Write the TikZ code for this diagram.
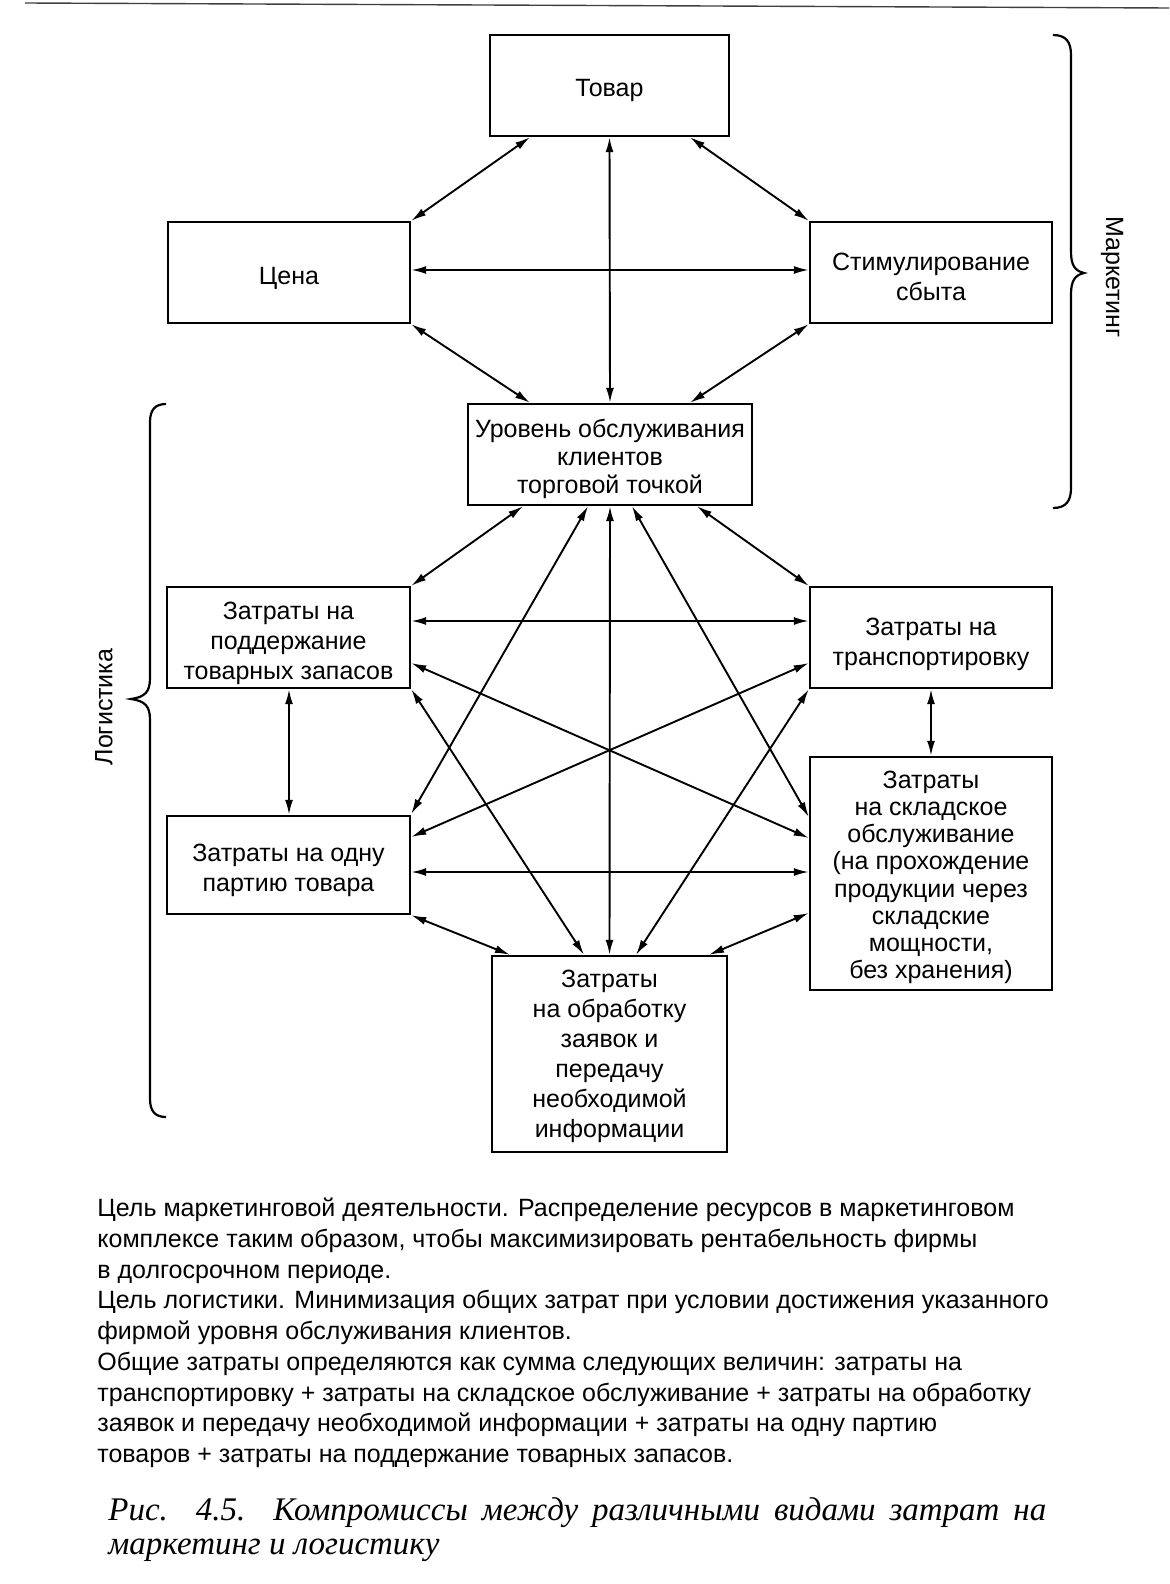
\documentclass[tikz,border=0pt]{standalone}
\usepackage{fontspec}
\setmainfont{Liberation Sans}
\newfontfamily\capfont{Liberation Serif}
\usetikzlibrary{arrows.meta}
\newcommand\tp[1]{\rule{0pt}{#1pt}}
\begin{document}
\begin{tikzpicture}[x=0.5pt,y=-0.5pt,
  box/.style={draw, line width=1.2pt, align=center, inner sep=0pt, font=\fontsize{12.5}{15}\selectfont},
  link/.style={{Latex[length=7.5pt,width=4pt]}-{Latex[length=7.5pt,width=4pt]}, line width=0.95pt},
  brace/.style={line width=1.1pt},
  lbl/.style={inner sep=0pt, font=\fontsize{12.5}{15}\selectfont},
  body/.style={anchor=base west, inner sep=0pt, font=\fontsize{12.5}{15}\selectfont},
  capt/.style={anchor=base west, inner sep=0pt, font=\capfont\itshape\fontsize{16.5}{18}\selectfont}
  ]
\useasboundingbox (0,0) rectangle (1169,1584);
\fill[white] (0,0) rectangle (1169,1584);
\draw[line width=0.7pt, black!75] (25,3) -- (1169,8);

% boxes
\node[box, minimum width=119.5pt, minimum height=50.5pt] (T) at (609.5,85.5) {\tp{14}Товар};
\node[box, minimum width=121pt, minimum height=50.5pt] (C) at (289,272.5) {\tp{14}Цена};
\node[box, minimum width=121pt, minimum height=50.5pt] (S) at (931,272.5) {\tp{13}Стимулирование\\сбыта};
\node[box, minimum width=142pt, minimum height=50.5pt, font=\fontsize{12.5}{14}\selectfont] (U) at (610,454.5) {\tp{14}Уровень обслуживания\\клиентов\\торговой точкой};
\node[box, minimum width=121.5pt, minimum height=50.5pt] (Zp) at (288.5,637.5) {\tp{15}Затраты на\\поддержание\\товарных запасов};
\node[box, minimum width=121pt, minimum height=50.5pt] (Zt) at (931,637.5) {\tp{15.5}Затраты на\\транспортировку};
\node[box, minimum width=121.5pt, minimum height=49pt] (Zo) at (288.5,865) {\tp{14.5}Затраты на одну\\партию товара};
\node[box, minimum width=121pt, minimum height=116.5pt, font=\fontsize{12.5}{13.6}\selectfont] (Zs) at (931,873.5) {\tp{12.5}Затраты\\на складское\\обслуживание\\(на прохождение\\продукции через\\складские\\мощности,\\без хранения)};
\node[box, minimum width=117.5pt, minimum height=98pt] (Zb) at (609.5,1054) {\tp{11}Затраты\\на обработку\\заявок и\\передачу\\необходимой\\информации};

% connectors, marketing
\draw[link] (T.south -| 530,0) -- (C.north east);
\draw[link] (T.south -| 690,0) -- (S.north west);
\draw[link] (T.south) -- (U.north);
\draw[link] (C.east |- 0,270) -- (S.west |- 0,270);
\draw[link] (C.south east) -- (U.north -| 530,0);
\draw[link] (S.south west) -- (U.north -| 690,0);

% connectors, logistics
\draw[link] (U.south -| 523,0) -- (Zp.north east);
\draw[link] (U.south -| 697,0) -- (Zt.north west);
\draw[link] (U.south -| 588,0) -- (Zo.east |- 0,814);
\draw[link] (U.south -| 632,0) -- (Zs.west |- 0,817);
\draw[link] (U.south) -- (Zb.north);
\draw[link] (Zp.east |- 0,621) -- (Zt.west |- 0,621);
\draw[link] (Zp.east |- 0,663) -- (Zs.west |- 0,838);
\draw[link] (Zt.west |- 0,663) -- (Zo.east |- 0,837);
\draw[link] (Zp.south east) -- (Zb.north -| 584,0);
\draw[link] (Zt.south west) -- (Zb.north -| 636,0);
\draw[link] (Zp.south -| 289,0) -- (Zo.north -| 289,0);
\draw[link] (Zt.south -| 931,0) -- (Zs.north -| 931,0);
\draw[link] (Zo.east |- 0,872) -- (Zs.west |- 0,872);
\draw[link] (Zo.south east) -- (Zb.north -| 510,0);
\draw[link] (Zs.west |- 0,913) -- (Zb.north -| 709,0);

% braces
\draw[brace] (1053,35) .. controls (1066,35) and (1071,42) .. (1071,55) -- (1071,252) .. controls (1071,265) and (1075,271) .. (1084,273) .. controls (1075,275) and (1071,281) .. (1071,294) -- (1071,488) .. controls (1071,501) and (1066,508) .. (1053,508);
\draw[brace] (166,404) .. controls (155,404) and (150,410) .. (150,422) -- (150,678) .. controls (150,692) and (145,697) .. (131,699) .. controls (145,701) and (150,706) .. (150,720) -- (150,1099) .. controls (150,1111) and (155,1117) .. (166,1117);
\node[lbl, rotate=-90] (mk) at (1112,277) {Маркетинг};
\node[lbl, rotate=90] (lg) at (104,707) {Логистика};

% text
\node[body] (t1) at (97,1216) {Цель маркетинговой деятельности. Распределение ресурсов в маркетинговом};
\node[body] (t2) at (97,1247) {комплексе таким образом, чтобы максимизировать рентабельность фирмы};
\node[body] (t3) at (97,1278) {в долгосрочном периоде.};
\node[body] (t4) at (97,1308) {Цель логистики. Минимизация общих затрат при условии достижения указанного};
\node[body] (t5) at (97,1339) {фирмой уровня обслуживания клиентов.};
\node[body] (t6) at (97,1370) {Общие затраты определяются как сумма следующих величин: затраты на};
\node[body] (t7) at (97,1401) {транспортировку + затраты на складское обслуживание + затраты на обработку};
\node[body] (t8) at (97,1431) {заявок и передачу необходимой информации + затраты на одну партию};
\node[body] (t9) at (97,1462) {товаров + затраты на поддержание товарных запасов.};

\node[capt] (c1) at (108,1520) {\makebox[469pt][s]{Рис. 4.5. Компромиссы между различными видами затрат на}};
\node[capt] (c2) at (108,1554) {маркетинг и логистику};
\end{tikzpicture}
\end{document}
